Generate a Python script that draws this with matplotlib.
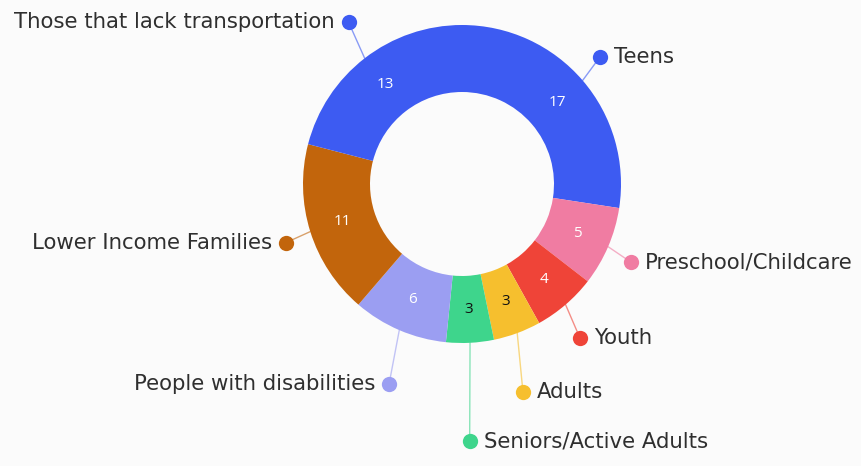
import numpy as np
import matplotlib
matplotlib.use("Agg")
import matplotlib.pyplot as plt

categories = ["Teens", "Preschool/Childcare", "Youth", "Adults",
              "Seniors/Active Adults", "People with disabilities",
              "Lower Income Families", "Those that lack transportation"]
values = [17, 5, 4, 3, 3, 6, 11, 13]
colors = ["#3d5bf2", "#f07ca2", "#ef4438", "#f6bf2e",
          "#3ed58c", "#9b9ef2", "#c2650c", "#3d5bf2"]
value_text_colors = ["white", "white", "white", "#111111",
                     "#111111", "white", "white", "white"]
# outer label dot placement: distance from the centre (in outer radii)
# and a small angular nudge (degrees) away from the wedge middle
label_radius = [1.18, 1.17, 1.22, 1.365, 1.62, 1.34, 1.167, 1.242]
label_nudge = [2.0, -1.6, -3.2, -4.0, -1.2, 3.2, 1.0, -2.7]

W, H = 862, 466
fig = plt.figure(figsize=(W / 100, H / 100), dpi=100)
fig.patch.set_facecolor("#fbfbfb")
ax = fig.add_axes([0, 0, 1, 1])

cx, cy = 462, H - 184
R, r_in = 159, 92

wedges, _ = ax.pie(values, colors=colors, startangle=90, counterclock=False,
                   radius=R, center=(cx, cy), frame=True,
                   wedgeprops=dict(width=R - r_in, edgecolor="none"))
ax.set_xlim(0, W)
ax.set_ylim(0, H)
ax.set_aspect("equal")
ax.axis("off")

label_font = ["DejaVu Sans"]
value_font = ["Open Sans", "DejaVu Sans"]
r_mid = (R + r_in) / 2
for w, v, tc, name, lr, nd, col in zip(wedges, values, value_text_colors,
                                       categories, label_radius, label_nudge,
                                       colors):
    mid = np.deg2rad((w.theta1 + w.theta2) / 2)
    # value inside the ring
    ax.text(cx + r_mid * np.cos(mid), cy + r_mid * np.sin(mid), str(v),
            color=tc, fontsize=11, ha="center", va="center",
            family=value_font)
    # leader line and dot
    ang = mid + np.deg2rad(nd)
    x0, y0 = cx + R * np.cos(mid), cy + R * np.sin(mid)
    x1, y1 = cx + R * lr * np.cos(ang), cy + R * lr * np.sin(ang)
    ax.plot([x0, x1], [y0, y1], color=col, lw=1.0, alpha=0.6,
            solid_capstyle="round", zorder=3)
    ax.plot([x1], [y1], "o", color=col, markersize=11,
            markeredgewidth=0, zorder=4)
    if np.cos(ang) >= 0:
        ax.text(x1 + 14, y1, name, ha="left", va="center", fontsize=15.3,
                color="#2f2f2f", family=label_font)
    else:
        ax.text(x1 - 14, y1, name, ha="right", va="center", fontsize=15.3,
                color="#2f2f2f", family=label_font)

fig.savefig("out.png", dpi=100, facecolor=fig.get_facecolor())
